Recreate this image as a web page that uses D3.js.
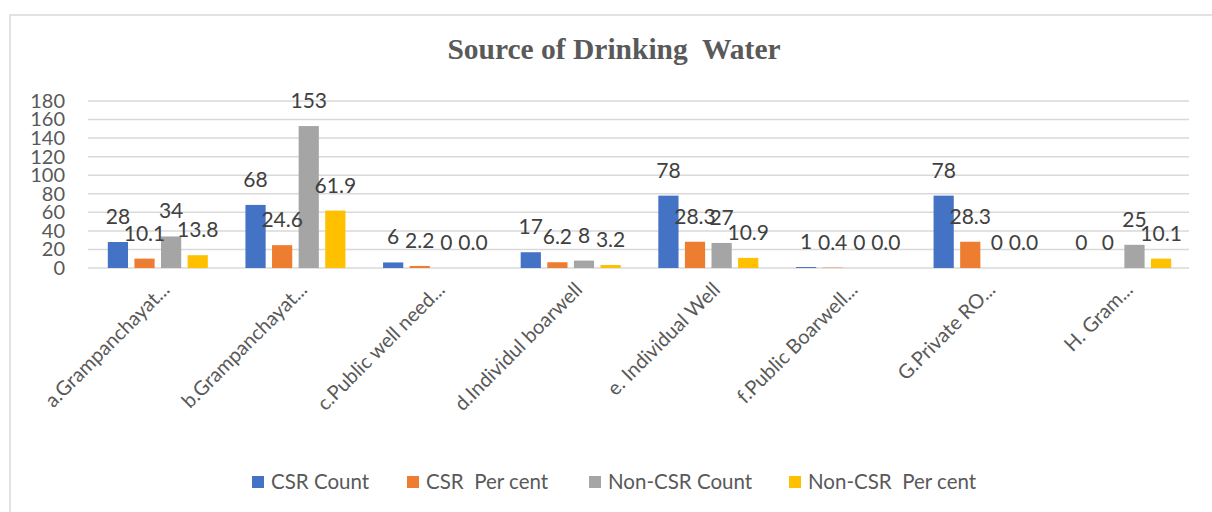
<!DOCTYPE html>
<html>
<head>
<meta charset="utf-8">
<script src="https://cdn.jsdelivr.net/npm/d3@7"></script>
<style>
  body { margin: 0; background: #fff; }
</style>
</head>
<body>
<svg id="chart"></svg>
<script>
var W = 1212, H = 512;

// data
var categories = ["a.Grampanchayat...", "b.Grampanchayat...", "c.Public well need...", "d.Individul boarwell",
    "e. Individual Well", "f.Public Boarwell...", "G.Private RO...", "H. Gram..."];
var seriesNames = ["CSR Count", "CSR  Per cent", "Non-CSR Count", "Non-CSR  Per cent"];
var csrCount = [28, 68, 6, 17, 78, 1, 78, 0];
var csrPct = [10.1, 24.6, 2.2, 6.2, 28.3, 0.4, 28.3, 0];
var nonCsrCount = [34, 153, 0, 8, 27, 0, 0, 25];
var nonCsrPct = [13.8, 61.9, 0.0, 3.2, 10.9, 0.0, 0.0, 10.1];
var yTicks = [0, 20, 40, 60, 80, 100, 120, 140, 160, 180];

var colors = ["#4472C4", "#ED7D31", "#A5A5A5", "#FFC000"];
var formats = [d => String(d), d => String(d), d => String(d), d => d.toFixed(1)];
var allSeries = [csrCount, csrPct, nonCsrCount, nonCsrPct];

var margin = { top: 101, left: 88, right: 23, bottom: 244 };
var width = W - margin.left - margin.right;
var height = H - margin.top - margin.bottom;

var font = "Lato, Open Sans, sans-serif";

var svg = d3.select("#chart").attr("width", W).attr("height", H);

// chart frame
svg.append("rect")
    .attr("x", 10).attr("y", 15)
    .attr("width", W + 10).attr("height", H + 10)
    .attr("fill", "none")
    .attr("stroke", "#d9d9d9")
    .attr("stroke-width", 1.5);

svg.append("text")
    .attr("x", 614).attr("y", 59)
    .attr("text-anchor", "middle")
    .attr("font-family", "Liberation Serif, Times New Roman, serif")
    .attr("font-weight", "bold")
    .attr("font-size", "29.5px")
    .attr("fill", "#595959")
    .attr("xml:space", "preserve")
    .text("Source of Drinking  Water");

var g = svg.append("g")
    .attr("transform", "translate(" + margin.left + "," + margin.top + ")");

var x = d3.scaleBand()
    .domain(categories)
    .range([0, width]);

var xSub = d3.scaleBand()
    .domain(d3.range(4))
    .range([x.bandwidth() / 2 - 49, x.bandwidth() / 2 + 51])
    .paddingInner(0.24);

var y = d3.scaleLinear()
    .domain([0, 180])
    .range([height, 0]);

// gridlines
g.append("g")
    .selectAll("line")
    .data(yTicks)
    .join("line")
    .attr("x1", 0).attr("x2", width)
    .attr("y1", d => y(d)).attr("y2", d => y(d))
    .attr("stroke", "#d9d9d9")
    .attr("stroke-width", 1.5);

// y axis labels
var yAxis = g.append("g")
    .call(d3.axisLeft(y).tickValues(yTicks).tickSize(0).tickPadding(23));
yAxis.select(".domain").remove();
yAxis.selectAll("text")
    .attr("font-family", font)
    .attr("font-size", "20px")
    .attr("fill", "#595959");

// bars
var rows = categories.map((c, i) => ({ cat: c, vals: allSeries.map(s => s[i]) }));

var groups = g.append("g")
    .selectAll("g")
    .data(rows)
    .join("g")
    .attr("transform", d => "translate(" + x(d.cat) + ",0)");

groups.selectAll("rect")
    .data(d => d.vals.map((v, k) => ({ k: k, v: v })))
    .join("rect")
    .attr("x", d => xSub(d.k))
    .attr("width", xSub.bandwidth())
    .attr("y", d => y(d.v))
    .attr("height", d => height - y(d.v))
    .attr("fill", d => colors[d.k]);

// data labels
groups.selectAll("text")
    .data(d => d.vals.map((v, k) => ({ k: k, v: v })))
    .join("text")
    .attr("x", d => xSub(d.k) + xSub.bandwidth() / 2)
    .attr("y", d => y(d.v) - 18)
    .attr("text-anchor", "middle")
    .attr("font-family", font)
    .attr("font-size", "21px")
    .attr("fill", "#404040")
    .text(d => formats[d.k](d.v));

// category labels
g.append("g")
    .selectAll("text")
    .data(categories)
    .join("text")
    .attr("transform", d => "translate(" + (x(d) + x.bandwidth() / 2 + 14) + "," + (height + 23) + ") rotate(-45)")
    .attr("text-anchor", "end")
    .attr("font-family", font)
    .attr("font-size", "20px")
    .attr("fill", "#595959")
    .text(d => d);

// legend
var legendX = [252, 407, 589, 789];
var legend = svg.append("g")
    .selectAll("g")
    .data(seriesNames)
    .join("g")
    .attr("transform", (d, i) => "translate(" + legendX[i] + ",482)");

legend.append("rect")
    .attr("x", 0).attr("y", -6)
    .attr("width", 12).attr("height", 12)
    .attr("fill", (d, i) => colors[i]);

legend.append("text")
    .attr("x", 19).attr("y", 7)
    .attr("font-family", font)
    .attr("font-size", "20.5px")
    .attr("fill", "#595959")
    .attr("xml:space", "preserve")
    .text(d => d);
</script>
</body>
</html>
